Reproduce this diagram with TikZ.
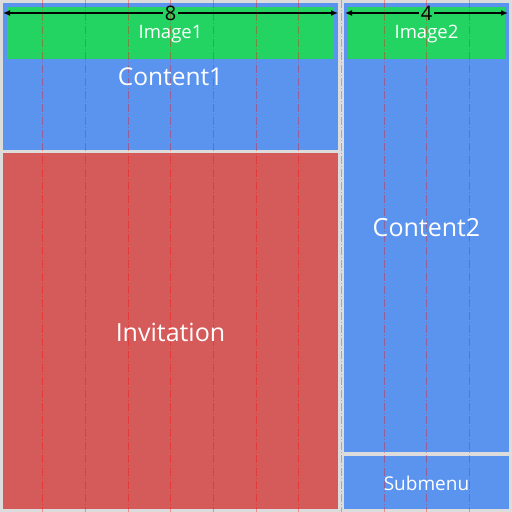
\documentclass[tikz,border=0pt]{standalone}
\usepackage{fontspec}
\setmainfont{Open Sans}
\usetikzlibrary{arrows.meta}
\definecolor{bggray}{HTML}{DCDCDC}
\definecolor{cblue}{HTML}{5A94EE}
\definecolor{cgreen}{HTML}{24D463}
\definecolor{cred}{HTML}{D55A5A}
\tikzset{
  lbl/.style={text=white, inner sep=0pt},
  gridline/.style={red, opacity=0.35, line width=1pt, dash pattern=on 8pt off 2pt on 1pt off 2pt},
  dimtext/.style={text=black, inner sep=0pt, font=\fontsize{20}{20}\selectfont},
  dimarrow/.style={line width=1.3pt, -{Latex[length=7pt,width=6pt]}}
}
\begin{document}
\begin{tikzpicture}[x=1pt,y=-1pt]
\fill[bggray] (0,0) rectangle (512,512);
\useasboundingbox (0,0) rectangle (512,512);
% panels
\fill[cblue] (3,3) rectangle (338,150);
\fill[cred] (3,153) rectangle (338,509);
\fill[cblue] (344,3) rectangle (509,452);
\fill[cblue] (344,456) rectangle (509,509);
\fill[cgreen] (7,7) rectangle (334,59);
\fill[cgreen] (348,7) rectangle (505,59);
% grid lines
\foreach \k in {1,...,11}{
  \draw[gridline] ({512/12*\k},0) -- ({512/12*\k},512);
}
% labels
\node[lbl, font=\fontsize{18.5}{18.5}\selectfont] (img1) at (170.5,34) {Image1};
\node[lbl, font=\fontsize{18.5}{18.5}\selectfont] (img2) at (426.5,34) {Image2};
\node[lbl, font=\fontsize{24.5}{24.5}\selectfont] (c1) at (170.5,77) {Content1};
\node[lbl, font=\fontsize{25}{25}\selectfont] (inv) at (170.5,332) {Invitation};
\node[lbl, font=\fontsize{25}{25}\selectfont] (c2) at (426.5,228) {Content2};
\node[lbl, font=\fontsize{19}{19}\selectfont] (sub) at (426.5,483) {Submenu};
% dimension arrows
\coordinate (a8l) at (3,13);
\coordinate (a8r) at (338,13);
\coordinate (a4l) at (345,13);
\coordinate (a4r) at (508,13);
\node[dimtext] (d8) at (170.5,13.5) {8};
\node[dimtext] (d4) at (426.5,13.5) {4};
\draw[dimarrow] ([xshift=-2pt]d8.west |- a8l) -- (a8l);
\draw[dimarrow] ([xshift=2pt]d8.east |- a8r) -- (a8r);
\draw[dimarrow] ([xshift=-2pt]d4.west |- a4l) -- (a4l);
\draw[dimarrow] ([xshift=2pt]d4.east |- a4r) -- (a4r);
\end{tikzpicture}
\end{document}
